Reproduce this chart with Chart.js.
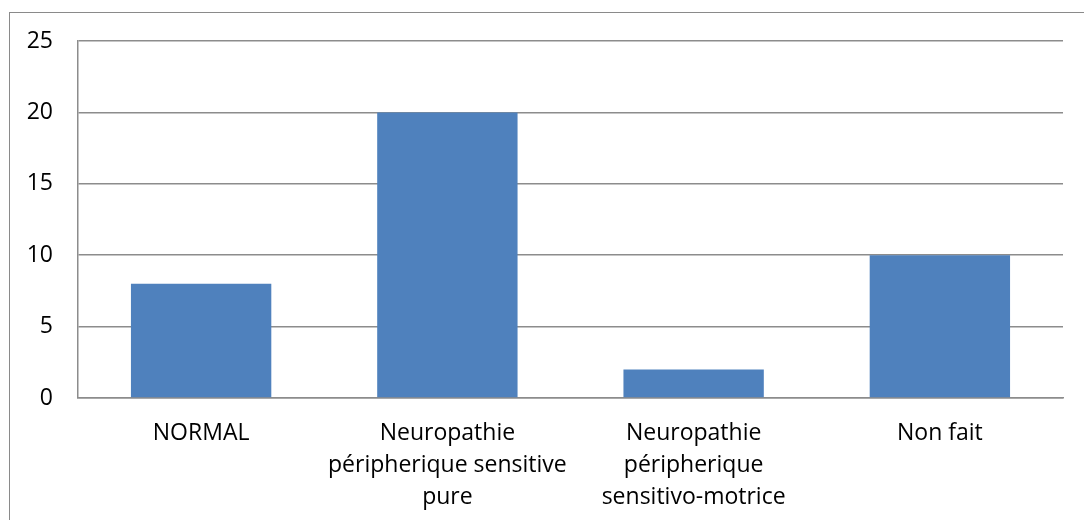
<!DOCTYPE html>
<html>
<head>
<meta charset="utf-8">
<script src="https://cdn.jsdelivr.net/npm/chart.js@4"></script>
<style>
  html, body { margin: 0; padding: 0; background: #fff; overflow: hidden; }
  #wrap { position: relative; width: 1084px; height: 520px; }
  #frame { position: absolute; left: 9px; top: 12px; width: 1200px; height: 600px;
           border-left: 1px solid #8a8a8a; border-top: 1px solid #8a8a8a; }
  canvas { position: absolute; left: 0; top: 0; }
</style>
</head>
<body>
<div id="wrap">
  <div id="frame"></div>
  <canvas id="c" width="1084" height="520"></canvas>
</div>
<script>
// Categories (wrapped over several lines) and counts
const categories = [
  ["NORMAL"],
  ["Neuropathie", "péripherique sensitive", "pure"],
  ["Neuropathie", "péripherique", "sensitivo-motrice"],
  ["Non fait"]
];
const counts = [8, 20, 2, 10];
const yTicks = [0, 5, 10, 15, 20, 25];

const gridColor = '#8c8c8c';
const fontFamily = '"Open Sans", sans-serif';

new Chart(document.getElementById('c'), {
  type: 'bar',
  data: {
    labels: categories,
    datasets: [{
      data: counts,
      backgroundColor: '#4F81BD',
      borderWidth: 0,
      categoryPercentage: 0.57,
      barPercentage: 1.0
    }]
  },
  options: {
    responsive: false,
    animation: false,
    events: [],
    layout: { padding: { top: 41, right: 21, bottom: 0, left: 0 } },
    plugins: { legend: { display: false }, tooltip: { enabled: false } },
    scales: {
      x: {
        grid: { display: false, drawTicks: false },
        border: { display: true, color: gridColor, width: 1.5 },
        ticks: {
          color: '#000',
          font: { family: fontFamily, size: 23, lineHeight: 1.4 },
          padding: 19,
          maxRotation: 0,
          autoSkip: false
        },
        afterFit: s => { s.height = 122; }
      },
      y: {
        min: 0,
        max: 25,
        afterBuildTicks: s => { s.ticks = yTicks.map(v => ({ value: v })); },
        grid: { color: gridColor, lineWidth: 1.5, drawTicks: false },
        border: { display: true, color: gridColor, width: 1.5 },
        ticks: {
          color: '#000',
          font: { family: fontFamily, size: 23 },
          padding: 25
        },
        afterFit: s => { s.width = 78; }
      }
    }
  }
});
</script>
</body>
</html>
